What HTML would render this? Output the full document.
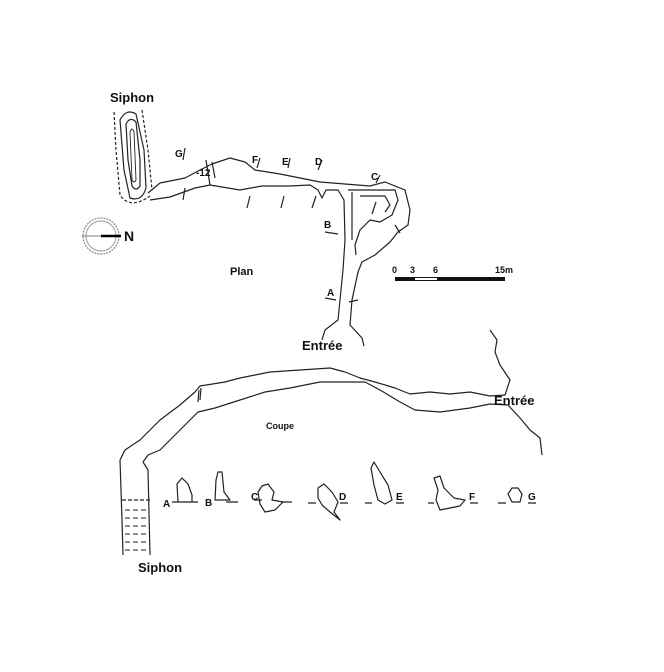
<!DOCTYPE html>
<html><head><meta charset="utf-8"><style>
html,body{margin:0;padding:0;background:#fff}
svg{display:block}
text{font-family:"Liberation Sans",sans-serif;font-weight:bold;fill:#111}
</style></head><body>
<svg width="664" height="672" viewBox="0 0 664 672" xmlns="http://www.w3.org/2000/svg">
<g fill="none" stroke="#222" stroke-width="1.2" stroke-linejoin="round">
<!-- Plan siphon -->
<path d="M120 120 Q126 108 136 114 L144 150 L146 188 Q142 202 130 198 L124 170 Z"/>
<path d="M126 124 Q130 116 136 122 L140 160 L140 186 Q136 192 132 186 L128 160 Z"/>
<path d="M130 132 Q132 126 134 132 L136 180 Q134 184 132 180 Z" stroke-width="0.9"/>
<path d="M114 112 L116 150 L120 195 Q130 210 150 196" stroke-dasharray="3 2"/>
<path d="M142 110 L148 150 L152 190" stroke-dasharray="3 2"/>
<!-- main passage -->
<path d="M148 193 L160 183 L185 178 L200 170 L212 164 L230 158 L245 162 L255 170 L280 174 L300 178 L320 182 L345 184 L370 186 L385 182 L395 186 L405 190 L410 210 L408 225 L398 232 L390 242 L375 255 L362 262 L358 272 L352 300 L350 325 L362 338 L364 346"/>
<path d="M150 200 L170 197 L195 188 L210 185 L240 190 L262 186 L290 186 L310 185 L318 190 L322 198 L326 190 L338 190 L344 200 L345 240 L343 270 L340 300 L338 320 L325 330 L322 340"/>
<path d="M348 190 L395 190 L398 200 L392 215 L380 222 L370 220 L360 230 L355 245 L356 255"/>
<path d="M352 192 L352 240 M360 196 L385 196 L390 205 L385 212" />
<path d="M395 225 L400 233"/>
<path d="M206 160 L210 185 M212 162 L215 178"/>
<!-- section markers plan -->
<path d="M185 148 L183 160 M185 188 L183 200 M260 158 L257 168 M250 196 L247 208 M290 158 L288 168 M284 196 L281 208 M322 160 L318 170 M316 196 L312 208 M380 175 L376 183 M376 202 L372 214 M325 232 L338 234 M325 298 L336 300 M349 302 L358 300"/>
<!-- Coupe -->
<path d="M120 460 L125 450 L140 440 L160 420 L180 405 L195 392 L200 386 L225 382 L240 378 L255 375 L270 372 L300 370 L330 368 L345 372 L360 378 L375 382 L395 388 L410 394 L430 392 L450 394 L470 392 L490 396 L505 395 L510 380 L500 365 L495 352 L497 340 L490 330"/>
<path d="M143 462 L148 455 L160 450 L180 430 L198 412 L215 408 L240 400 L265 392 L290 388 L320 382 L365 382 L380 390 L400 402 L415 410 L440 412 L470 408 L490 404 L508 405 L520 418 L530 430 L540 438 L542 455"/>
<path d="M199 390 L198 402 M201 388 L200 400"/>
<!-- coupe siphon -->
<path d="M120 460 L122 520 L123 555 M143 462 L148 470 L150 555"/>
<path d="M122 500 L150 500" stroke-dasharray="4 2"/>
<path d="M125 510 H147 M125 518 H147 M125 526 H147 M125 534 H147 M125 542 H147 M125 550 H147" stroke-dasharray="5 3" stroke-width="0.9"/>
<!-- sections -->
<path d="M172 502 H178 M192 502 H198 M226 502 H238 M254 500 H262 M282 502 H292 M308 503 H316 M340 503 H348 M365 503 H372 M396 503 H404 M428 503 H434 M470 503 H478 M498 503 H506 M528 503 H536"/>
<path d="M178 502 L177 484 L182 478 L188 484 L192 495 L192 502 Z"/>
<path d="M215 500 L216 480 L218 472 L222 472 L224 492 L230 500 Z"/>
<path d="M258 492 L262 486 L268 484 L274 492 L272 500 L283 502 L275 510 L265 512 L260 504 Z"/>
<path d="M318 488 L324 484 L332 492 L338 502 L334 512 L340 520 L330 512 L322 505 L318 498 Z"/>
<path d="M371 468 L374 462 L380 472 L388 485 L392 500 L385 504 L378 500 L374 485 Z"/>
<path d="M434 478 L440 476 L444 488 L454 498 L465 500 L460 506 L450 508 L440 510 L436 500 L438 490 Z"/>
<path d="M508 494 L512 488 L518 488 L522 494 L520 502 L512 502 Z"/>
<!-- compass -->
<circle cx="101" cy="236" r="18" stroke="#888" stroke-dasharray="2 1"/>
<circle cx="101" cy="236" r="15" stroke="#aaa"/>
<line x1="82" y1="236" x2="101" y2="236" stroke="#999"/>
<line x1="101" y1="236" x2="121" y2="236" stroke="#000" stroke-width="2.5"/>
</g>
<!-- scale bar -->
<rect x="395" y="277" width="110" height="4" fill="#111"/>
<rect x="415" y="278" width="22" height="2" fill="#fff"/>
<text x="392" y="273" font-size="9">0</text>
<text x="410" y="273" font-size="9">3</text>
<text x="433" y="273" font-size="9">6</text>
<text x="495" y="273" font-size="9">15m</text>
<text x="124" y="241" font-size="14">N</text>
<text x="110" y="102" font-size="13">Siphon</text>
<text x="175" y="157" font-size="10">G</text>
<text x="196" y="176" font-size="10">-12</text>
<text x="252" y="163" font-size="10">F</text>
<text x="282" y="165" font-size="10">E</text>
<text x="315" y="165" font-size="10">D</text>
<text x="371" y="180" font-size="10">C</text>
<text x="324" y="228" font-size="10">B</text>
<text x="327" y="296" font-size="10">A</text>
<text x="230" y="275" font-size="11">Plan</text>
<text x="302" y="350" font-size="13">Entrée</text>
<text x="494" y="405" font-size="13">Entrée</text>
<text x="266" y="429" font-size="9">Coupe</text>
<text x="138" y="572" font-size="13">Siphon</text>
<text x="163" y="507" font-size="10">A</text>
<text x="205" y="506" font-size="10">B</text>
<text x="251" y="500" font-size="10">C</text>
<text x="339" y="500" font-size="10">D</text>
<text x="396" y="500" font-size="10">E</text>
<text x="469" y="500" font-size="10">F</text>
<text x="528" y="500" font-size="10">G</text>
</svg>
</body></html>
